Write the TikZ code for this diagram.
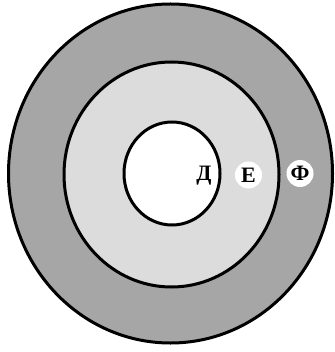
\documentclass[tikz,border=0pt]{standalone}
\usepackage{fontspec}
\setmainfont{Liberation Serif}
\definecolor{ringdark}{HTML}{A6A6A6}
\definecolor{ringlight}{HTML}{DCDCDC}

\begin{document}
\begin{tikzpicture}[x=1pt,y=-1pt,font=\bfseries\fontsize{22}{24}\selectfont,
    ring/.style={draw=black,line width=3pt},
    lbl/.style={circle,fill=white,inner sep=1pt,minimum size=27pt}]
    \useasboundingbox (0,0) rectangle (334,352);
    \draw[ring,fill=ringdark] (170.5,173.5) ellipse [x radius=162,y radius=169.5];
    \draw[ring,fill=ringlight] (171.5,174.5) ellipse [x radius=107.5,y radius=112.5];
    \draw[ring,fill=white] (172,173.5) ellipse [x radius=48,y radius=51.5];
    \node (d) at (204,176) {Д};
    \node[lbl] (e) at (248.5,175) {Е};
    \node[lbl] (f) at (300,173.5) {Ф};
  \end{tikzpicture}
\end{document}
